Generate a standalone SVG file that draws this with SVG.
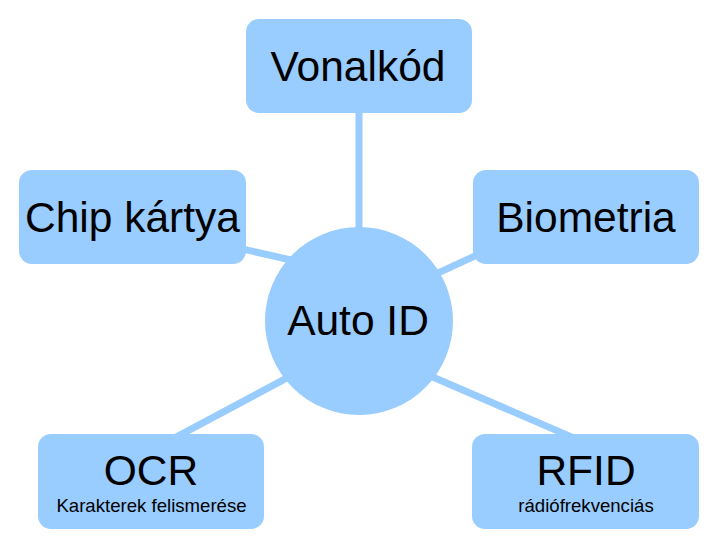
<svg xmlns="http://www.w3.org/2000/svg" width="719" height="549" viewBox="0 0 719 549">
<style>
.n{fill:#99ccff}
.c{stroke:#99ccff;stroke-width:7;fill:none}
.t{font-family:"Liberation Sans",Arial,sans-serif;font-size:42.5px;fill:#000;text-anchor:middle}
.s{font-family:"Liberation Sans",Arial,sans-serif;font-size:18.6px;fill:#000;text-anchor:middle}
</style>
<rect width="719" height="549" fill="#fff"/>
<g id="connectors">
<line class="c" x1="359" y1="105" x2="359" y2="235"/>
<line class="c" x1="240" y1="248.4" x2="300" y2="262"/>
<line class="c" x1="485" y1="251.4" x2="430" y2="276.6"/>
<line class="c" x1="295" y1="373.6" x2="170" y2="440.3"/>
<line class="c" x1="420" y1="371.5" x2="580" y2="440.6"/>
</g>
<g id="vonalkod"><rect class="n" x="246" y="19" width="226" height="94" rx="13"/><text class="t" x="358" y="81">Vonalkód</text></g>
<g id="chip"><rect class="n" x="19" y="170" width="227" height="94" rx="13"/><text class="t" x="132.5" y="232">Chip kártya</text></g>
<g id="biometria"><rect class="n" x="473" y="170" width="226" height="94" rx="13"/><text class="t" x="586" y="232">Biometria</text></g>
<g id="autoid"><circle class="n" cx="359" cy="321" r="94"/><text class="t" x="358" y="335">Auto ID</text></g>
<g id="ocr"><rect class="n" x="38" y="434" width="226" height="95" rx="13"/><text class="t" x="151" y="485">OCR</text><text class="s" x="151.5" y="511.5">Karakterek felismerése</text></g>
<g id="rfid"><rect class="n" x="472" y="434" width="227" height="95" rx="13"/><text class="t" x="586" y="485">RFID</text><text class="s" x="586" y="511.5">rádiófrekvenciás</text></g>
</svg>
